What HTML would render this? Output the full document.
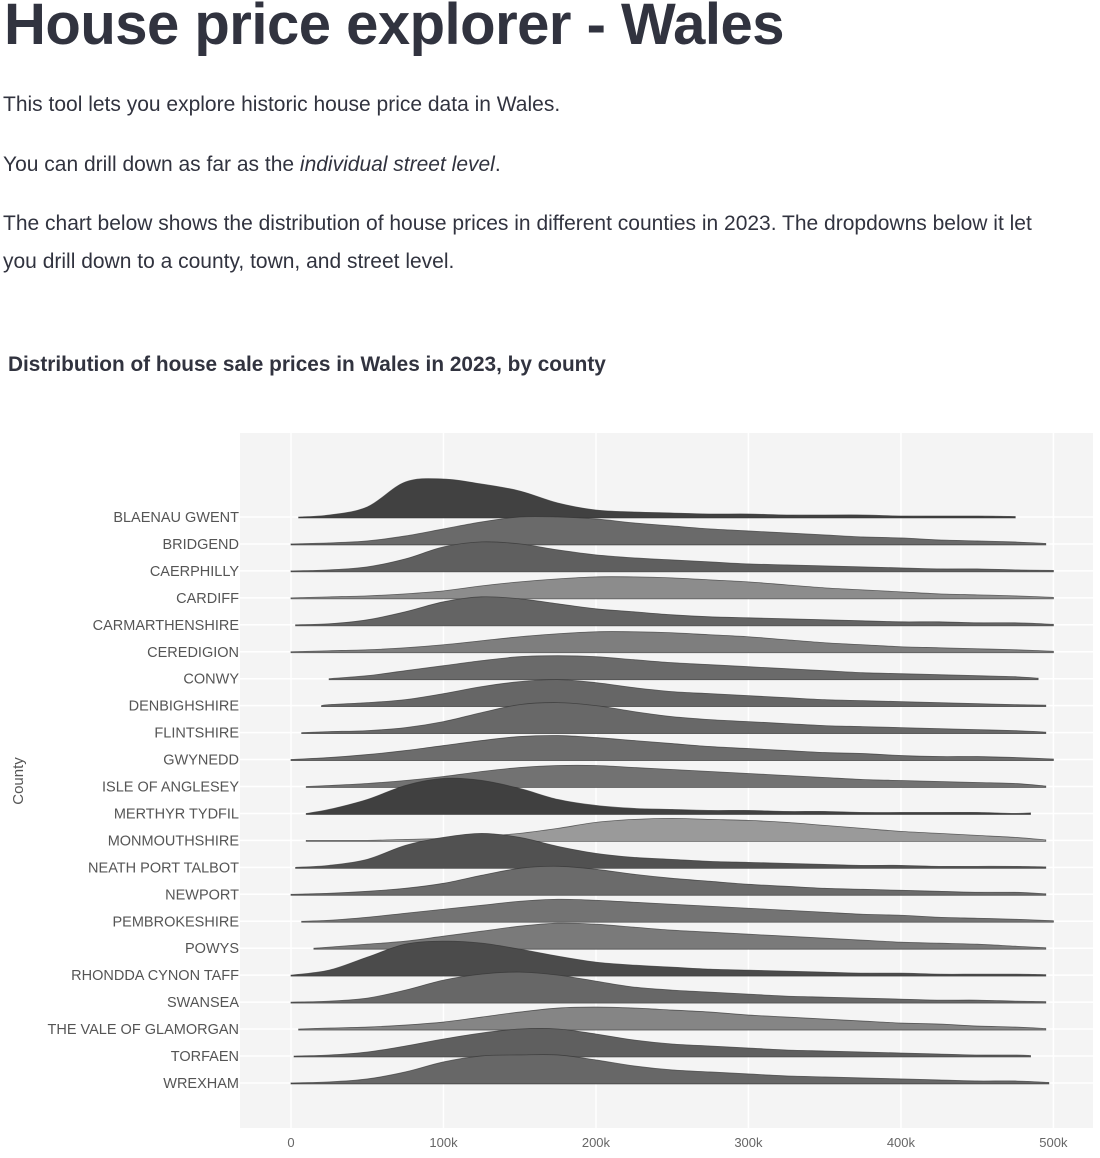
<!DOCTYPE html>
<html><head><meta charset="utf-8"><style>
body{margin:0;background:#fff;width:1100px;height:1158px;overflow:hidden;font-family:"Liberation Sans",sans-serif;color:#31333f}
h1{position:absolute;left:4px;top:-9px;margin:0;font-size:58px;font-weight:bold;letter-spacing:-0.5px}
p{position:absolute;left:3px;margin:0;font-size:21px;line-height:38px}
.ct{position:absolute;left:8px;top:353px;font-size:20.8px;font-weight:bold}
</style></head><body>
<h1>House price explorer - Wales</h1>
<p style="top:86px">This tool lets you explore historic house price data in Wales.</p>
<p style="top:146px">You can drill down as far as the <i>individual street level</i>.</p>
<p style="top:205px;width:1050px">The chart below shows the distribution of house prices in different counties in 2023. The dropdowns below it let you drill down to a county, town, and street level.</p>
<div class="ct">Distribution of house sale prices in Wales in 2023, by county</div>
<svg id="chart" style="position:absolute;left:0;top:0" width="1100" height="1158"></svg>
<script>
const counties=["BLAENAU GWENT","BRIDGEND","CAERPHILLY","CARDIFF","CARMARTHENSHIRE","CEREDIGION","CONWY","DENBIGHSHIRE","FLINTSHIRE","GWYNEDD","ISLE OF ANGLESEY","MERTHYR TYDFIL","MONMOUTHSHIRE","NEATH PORT TALBOT","NEWPORT","PEMBROKESHIRE","POWYS","RHONDDA CYNON TAFF","SWANSEA","THE VALE OF GLAMORGAN","TORFAEN","WREXHAM"];
const priceKnots=[0,25,50,75,100,125,150,175,200,225,250,275,300,325,350,375,400,425,450,475,500];
const densities=[
[0,2,10,35,38,33,26,14,7,5,4,3,3,2,2,2,1,1,1,1,0],
[0,1,3,8,15,22,27,27,25,21,18,15,13,11,9,7,6,4,3,2,1],
[0,1,4,12,24,29,27,21,16,13,11,9,7,6,5,4,3,2,2,1,1],
[1,1,2,4,7,12,16,19,21,21,20,18,16,13,10,8,6,4,3,2,1],
[0,1,5,13,23,28,26,21,16,13,10,8,7,6,5,4,3,3,2,2,1],
[0,1,2,4,7,11,15,18,20,20,19,17,15,12,9,7,5,4,3,2,1],
[0,0,3,8,13,18,22,23,22,19,16,14,12,10,8,6,5,4,3,2,0],
[0,1,3,6,12,19,24,26,23,18,14,12,10,8,6,5,4,3,2,1,1],
[0,1,2,5,11,20,28,30,27,21,16,13,11,9,7,6,5,4,3,2,1],
[0,2,5,9,14,19,23,24,22,19,16,13,11,9,7,6,4,3,3,2,1],
[0,1,3,6,10,15,19,21,21,19,17,15,13,11,9,7,6,5,4,3,1],
[0,4,14,28,35,33,25,14,8,5,4,3,3,2,2,1,1,1,1,0,0],
[0,0,0,1,2,4,7,12,18,21,22,21,20,18,15,12,9,7,5,3,1],
[0,2,8,22,30,34,30,21,14,10,8,6,5,4,3,2,2,1,1,1,1],
[0,1,3,6,11,19,26,28,25,20,16,13,10,8,6,5,4,3,2,2,1],
[0,1,4,8,12,16,20,22,21,19,17,15,13,11,9,7,6,4,3,2,1],
[0,1,4,7,12,17,22,25,24,21,18,16,14,12,10,8,6,5,4,2,1],
[0,5,18,31,34,32,26,19,13,10,8,6,5,4,3,2,2,1,1,1,1],
[0,1,4,12,22,28,30,27,21,15,12,10,8,6,5,4,3,2,2,1,1],
[0,1,2,4,7,12,17,21,22,21,19,17,14,12,10,8,6,5,3,2,1],
[0,1,4,10,17,23,27,27,22,16,12,10,8,6,5,4,3,2,1,1,0],
[0,1,4,11,21,27,28,28,23,17,13,11,9,7,6,5,4,3,2,2,1]];
const minPrice=[5,0,0,0,3,0,25,20,7,0,10,10,10,3,0,7,15,0,0,5,2,0];
const maxPrice=[475,495,500,500,500,500,490,495,495,500,495,485,495,495,495,500,495,495,495,495,485,497];
const shades=["#414141","#6a6a6a","#5f5f5f","#8c8c8c","#646464","#7e7e7e","#6a6a6a","#666666","#686868","#6c6c6c","#727272","#404040","#9a9a9a","#515151","#6b6b6b","#737373","#7a7a7a","#4b4b4b","#676767","#858585","#5f5f5f","#676767"];
const xTicks=[0,100,200,300,400,500];
const xTickLabels=["0","100k","200k","300k","400k","500k"];

const NS="http://www.w3.org/2000/svg",svg=document.getElementById("chart");
const X0=240,X1=1093,Y0=433,Y1=1128;
const x=v=>291+v*1.5248;
const rowY=i=>517+i*26.95;
function mk(t,a,p){const e=document.createElementNS(NS,t);for(const k in a)e.setAttribute(k,a[k]);(p||svg).appendChild(e);return e;}
const bg=mk("rect",{x:X0,y:Y0,width:X1-X0,height:Y1-Y0,fill:"#f4f4f4"});


xTicks.forEach((t,i)=>{
 const g=mk("line",{x1:x(t),x2:x(t),y1:Y0,y2:Y1,stroke:"#fff","stroke-width":1.5});
 
 
 const l=mk("text",{x:x(t),y:1147,"text-anchor":"middle","font-size":13,fill:"#666"});
 l.textContent=xTickLabels[i];
 
 
});
counties.forEach((c,i)=>{
 const y=rowY(i);
 const g=mk("line",{x1:X0,x2:X1,y1:y,y2:y,stroke:"#fff","stroke-width":1.5});
 
 
 const l=mk("text",{x:239,y:y+5,"text-anchor":"end","font-size":14.5,fill:"#555"});
 l.textContent=c;
 
 
});
counties.forEach((c,i)=>{
 const y=rowY(i),d=densities[i];
 const pts=[[x(minPrice[i]),y]];
 priceKnots.forEach((k,j)=>{if(k>minPrice[i]&&k<maxPrice[i])pts.push([x(k),y-d[j]]);});
 pts.push([x(maxPrice[i]),y-0.5]);
 let s="M"+pts[0][0]+","+y;
 for(let j=0;j<pts.length-1;j++){
  const p0=pts[Math.max(0,j-1)],p1=pts[j],p2=pts[j+1],p3=pts[Math.min(pts.length-1,j+2)];
  const c1=[p1[0]+(p2[0]-p0[0])/6,p1[1]+(p2[1]-p0[1])/6],c2=[p2[0]-(p3[0]-p1[0])/6,p2[1]-(p3[1]-p1[1])/6];
  s+=` C${c1[0]},${Math.min(y,c1[1])} ${c2[0]},${Math.min(y,c2[1])} ${p2[0]},${p2[1]}`;
 }
 const area=mk("path",{d:s+` L${x(maxPrice[i])},${y+1} L${x(minPrice[i])},${y+1} Z`,fill:shades[i],stroke:"#333","stroke-width":0.8,"stroke-opacity":0.7});
 
 
});
const yt=mk("text",{x:0,y:0,"font-size":15,fill:"#555","text-anchor":"middle",transform:"translate(23,781) rotate(-90)"});
yt.textContent="County";


</script>
</body></html>
